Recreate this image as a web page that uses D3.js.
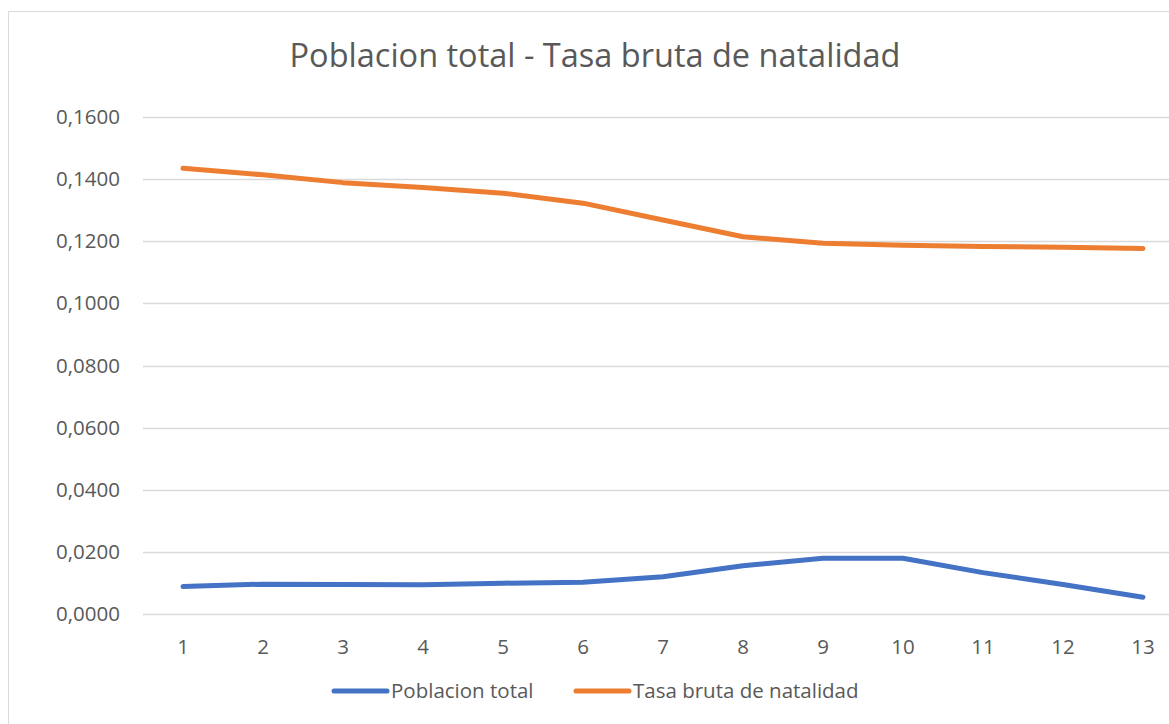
<!DOCTYPE html>
<html>
<head>
<meta charset="utf-8">
<script src="https://cdn.jsdelivr.net/npm/d3@7"></script>
<style>
  body { margin: 0; background: #fff; }
  text { font-family: "Open Sans", sans-serif; fill: #595959; }
</style>
</head>
<body>
<div id="chart"></div>
<script>
// data
var periods = [1, 2, 3, 4, 5, 6, 7, 8, 9, 10, 11, 12, 13];
var poblacionTotal = [0.0089, 0.0097, 0.0096, 0.0095, 0.0100, 0.0103, 0.0121, 0.0156, 0.0180, 0.0180, 0.0134, 0.0096, 0.0055];
var tasaNatalidad = [0.1434, 0.1413, 0.1388, 0.1372, 0.1354, 0.1322, 0.1268, 0.1214, 0.1193, 0.1187, 0.1183, 0.1180, 0.1176];
var yTicks = [0, 0.02, 0.04, 0.06, 0.08, 0.10, 0.12, 0.14, 0.16];
var seriesNames = ["Poblacion total", "Tasa bruta de natalidad"];
var seriesColors = ["#4472C4", "#ED7D31"];

var W = 1169, H = 724;
var svg = d3.select("#chart").append("svg")
  .attr("width", W)
  .attr("height", H);

// chart frame (runs off the right and bottom of the picture)
svg.append("rect")
  .attr("x", 8.5).attr("y", 11.5)
  .attr("width", 1200).attr("height", 740)
  .attr("fill", "#fff")
  .attr("stroke", "#d9d9d9");

var x = d3.scalePoint().domain(periods).range([143, 1183]).padding(0.5);
var y = d3.scaleLinear().domain([0, 0.16]).range([614.3, 116.7]);

// gridlines
svg.append("g").selectAll("line")
  .data(yTicks)
  .join("line")
  .attr("x1", 143).attr("x2", 1183)
  .attr("y1", function (d) { return Math.round(y(d)) + 0.5; })
  .attr("y2", function (d) { return Math.round(y(d)) + 0.5; })
  .attr("stroke", "#d9d9d9")
  .attr("stroke-width", 1.3);

// y labels
var fmt = d3.format(".4f");
svg.append("g").selectAll("text")
  .data(yTicks)
  .join("text")
  .attr("x", 120)
  .attr("y", function (d) { return y(d); })
  .attr("dy", "0.35em")
  .attr("text-anchor", "end")
  .style("font-size", "20.5px")
  .text(function (d) { return fmt(d).replace(".", ","); });

// x labels
svg.append("g").selectAll("text")
  .data(periods)
  .join("text")
  .attr("x", function (d) { return x(d); })
  .attr("y", 654)
  .attr("text-anchor", "middle")
  .style("font-size", "20.5px")
  .text(function (d) { return d; });

// lines
var line = d3.line()
  .x(function (d, i) { return x(periods[i]); })
  .y(function (d) { return y(d); });

[poblacionTotal, tasaNatalidad].forEach(function (vals, i) {
  svg.append("path")
    .datum(vals)
    .attr("d", line)
    .attr("fill", "none")
    .attr("stroke", seriesColors[i])
    .attr("stroke-width", 5)
    .attr("stroke-linecap", "round")
    .attr("stroke-linejoin", "round");
});

// title
svg.append("text")
  .attr("x", 595)
  .attr("y", 67)
  .attr("text-anchor", "middle")
  .style("font-size", "32.5px")
  .text("Poblacion total - Tasa bruta de natalidad");

// legend
var legendX = [334, 576];
seriesNames.forEach(function (name, i) {
  var g = svg.append("g").attr("transform", "translate(" + legendX[i] + ",691)");
  g.append("line")
    .attr("x1", 0).attr("x2", 53)
    .attr("stroke", seriesColors[i])
    .attr("stroke-width", 5)
    .attr("stroke-linecap", "round");
  g.append("text")
    .attr("x", 57)
    .attr("dy", "0.35em")
    .style("font-size", "20.5px")
    .text(name);
});
</script>
</body>
</html>
